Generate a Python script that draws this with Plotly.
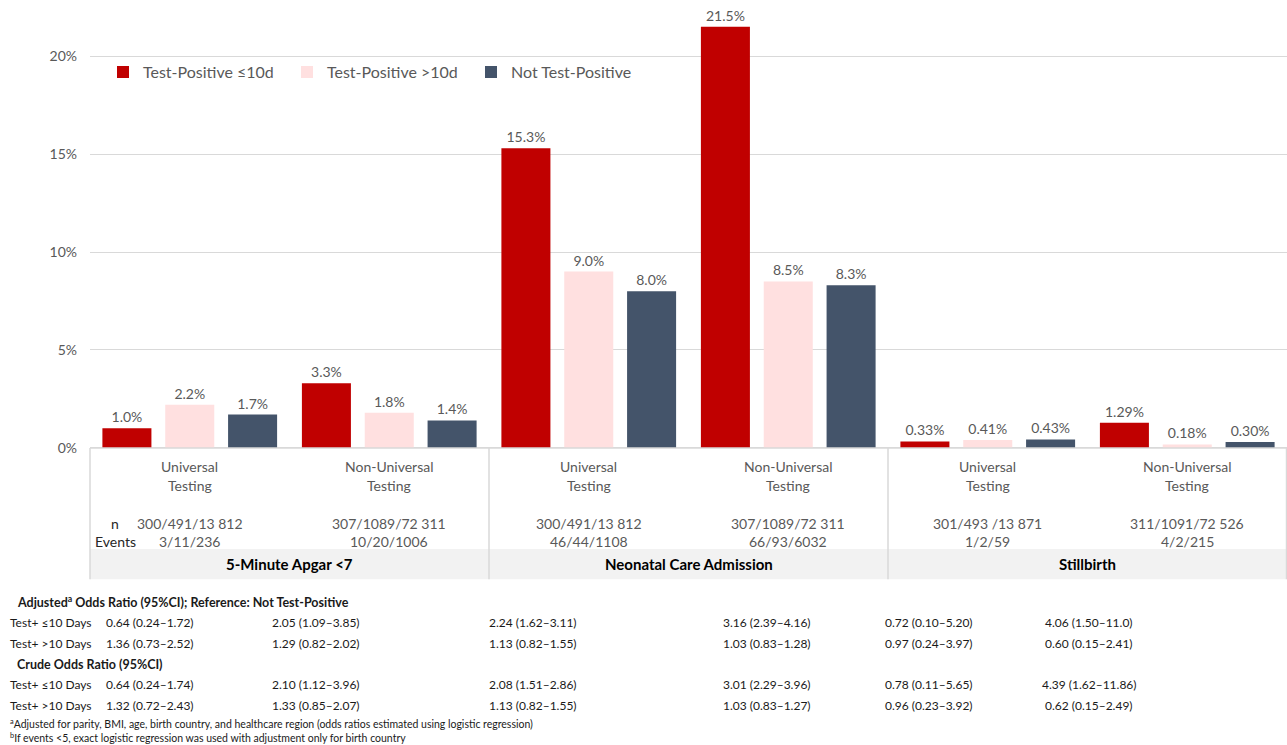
import plotly.graph_objects as go

W, H = 1287, 745

# ---------------- data ----------------
outcomes = ["5-Minute Apgar <7", "Neonatal Care Admission", "Stillbirth"]
settings = ["Universal<br>Testing", "Non-Universal<br>Testing"]
x_keys = ["Apgar-U", "Apgar-NU", "NCA-U", "NCA-NU", "SB-U", "SB-NU"]

series_names = ["Test-Positive ≤10d", "Test-Positive >10d", "Not Test-Positive"]
pos_le10 = [1.0, 3.3, 15.3, 21.5, 0.33, 1.29]
pos_gt10 = [2.2, 1.8, 9.0, 8.5, 0.41, 0.18]
not_pos = [1.7, 1.4, 8.0, 8.3, 0.43, 0.30]
label_decimals = [1, 1, 1, 1, 2, 2]

n_counts = ["300/491/13 812", "307/1089/72 311", "300/491/13 812",
            "307/1089/72 311", "301/493 /13 871", "311/1091/72 526"]
event_counts = ["3/11/236", "10/20/1006", "46/44/1108", "66/93/6032", "1/2/59", "4/2/215"]

adj_le10 = ["0.64 (0.24–1.72)", "2.05 (1.09–3.85)", "2.24 (1.62–3.11)",
            "3.16 (2.39–4.16)", "0.72 (0.10–5.20)", "4.06 (1.50–11.0)"]
adj_gt10 = ["1.36 (0.73–2.52)", "1.29 (0.82–2.02)", "1.13 (0.82–1.55)",
            "1.03 (0.83–1.28)", "0.97 (0.24–3.97)", "0.60 (0.15–2.41)"]
crude_le10 = ["0.64 (0.24–1.74)", "2.10 (1.12–3.96)", "2.08 (1.51–2.86)",
              "3.01 (2.29–3.96)", "0.78 (0.11–5.65)", "4.39 (1.62–11.86)"]
crude_gt10 = ["1.32 (0.72–2.43)", "1.33 (0.85–2.07)", "1.13 (0.82–1.55)",
              "1.03 (0.83–1.27)", "0.96 (0.23–3.92)", "0.62 (0.15–2.49)"]

y_ticks = [0, 5, 10, 15, 20]
y_tick_text = [f"{v}%" for v in y_ticks]

# ---------------- style ----------------
FONT = "Lato"
GRAY = "#595959"
GRID = "#d9d9d9"
colors = ["#C00000", "#FFE0E0", "#44546A"]

HR = 735.5  # effective rendered paper height (px) used for pixel placement

def px(x):
    return x / W

def py(y):
    return 1 - y / HR

fig = go.Figure()
for name, vals, col in zip(series_names, [pos_le10, pos_gt10, not_pos], colors):
    fig.add_trace(go.Bar(
        x=x_keys, y=vals, name=name, marker=dict(color=col, line=dict(width=0)),
        text=[f"{v:.{d}f}%" for v, d in zip(vals, label_decimals)],
        textposition="outside", textfont=dict(family=FONT, size=14, color=GRAY),
        cliponaxis=False,
    ))

X0, X1 = 90, 1287
Y_ZERO = 447
fig.update_layout(
    width=W, height=H, margin=dict(l=0, r=0, t=0, b=0),
    paper_bgcolor="white", plot_bgcolor="white",
    barmode="group", bargap=0.055, bargroupgap=0.22,
    font=dict(family=FONT, color=GRAY),
    xaxis=dict(domain=[px(X0), px(X1)], range=[-0.5, 5.5], showticklabels=False,
               showgrid=False, zeroline=False, showline=False, fixedrange=True),
    yaxis=dict(domain=[py(Y_ZERO), 1], range=[0, Y_ZERO / 19.55],
               tickmode="array", tickvals=y_ticks, ticktext=y_tick_text,
               showgrid=True, gridcolor=GRID, gridwidth=1,
               zeroline=True, zerolinecolor=GRID, zerolinewidth=1,
               showline=False, tickfont=dict(family=FONT, size=14, color=GRAY),
               ticks="", ticklabelstandoff=12),
    legend=dict(orientation="h", x=px(103), y=py(72), xanchor="left", yanchor="middle",
                font=dict(family=FONT, size=16, color=GRAY), traceorder="normal",
                bgcolor="rgba(0,0,0,0)", entrywidth=139, itemwidth=30),
    showlegend=True,
)

# ---------------- category table box ----------------
shapes = []
BAND_TOP, BAND_BOT = 548, 578
shapes.append(dict(type="rect", xref="paper", yref="paper", x0=px(X0), x1=px(X1),
                   y0=py(BAND_BOT), y1=py(BAND_TOP), fillcolor="#f2f2f2",
                   line=dict(width=0), layer="below"))
for xb in [X0, 489, 888, X1 - 0.5]:
    shapes.append(dict(type="line", xref="paper", yref="paper", x0=px(xb), x1=px(xb),
                       y0=py(Y_ZERO), y1=py(BAND_BOT), line=dict(color=GRID, width=1.5)))
shapes.append(dict(type="line", xref="paper", yref="paper", x0=px(X0), x1=px(X1),
                   y0=py(Y_ZERO), y1=py(Y_ZERO), line=dict(color=GRID, width=1.5)))
fig.update_layout(shapes=shapes)

ann = []
def add_text(x, y, text, size, color=GRAY, xanchor="center", bold=False, xref="paper"):
    ann.append(dict(x=x, y=py(y), xref=xref, yref="paper", text=(f"<b>{text}</b>" if bold else text),
                    showarrow=False, xanchor=xanchor, yanchor="middle",
                    font=dict(family=FONT, size=size, color=color), align="center"))

for i, key in enumerate(x_keys):
    setting = settings[i % 2]
    a, b = setting.split("<br>")
    add_text(i, 466, a, 14, xref="x")
    add_text(i, 485, b, 14, xref="x")
    add_text(i, 522, n_counts[i], 14, xref="x")
    add_text(i, 540, event_counts[i], 14, xref="x")
add_text(px(115), 522, "n", 14, color="#262626")
add_text(px(115), 540, "Events", 14, color="#262626")
for j, name in enumerate(outcomes):
    add_text(2 * j + 0.5, 563, name, 15, color="#000000", bold=True, xref="x")

# ---------------- odds ratio table ----------------
col_centers = [150, 316, 533, 767, 929, 1089]
TXT = "#1a1a1a"
add_text(px(15), 600, "Adjusted<sup>a</sup> Odds Ratio (95%CI); Reference: Not Test-Positive",
         12.5, color=TXT, xanchor="left", bold=True)
add_text(px(15), 663, "Crude Odds Ratio (95%CI)", 12.5, color=TXT, xanchor="left", bold=True)
rows = [(621, "Test+ ≤10 Days", adj_le10), (642, "Test+ >10 Days", adj_gt10),
        (683, "Test+ ≤10 Days", crude_le10), (704, "Test+ >10 Days", crude_gt10)]
for y, lab, vals in rows:
    add_text(px(8), y, lab, 12, color=TXT, xanchor="left")
    for cx, v in zip(col_centers, vals):
        add_text(px(cx), y, v, 12, color=TXT)

add_text(px(8), 722, "<sup>a</sup>Adjusted for parity, BMI, age, birth country, and healthcare region "
         "(odds ratios estimated using logistic regression)", 10.5, color=TXT, xanchor="left")
add_text(px(8), 736, "<sup>b</sup>If events <5, exact logistic regression was used with adjustment "
         "only for birth country", 10.5, color=TXT, xanchor="left")

fig.update_layout(annotations=ann)
fig.write_html("out.html")
